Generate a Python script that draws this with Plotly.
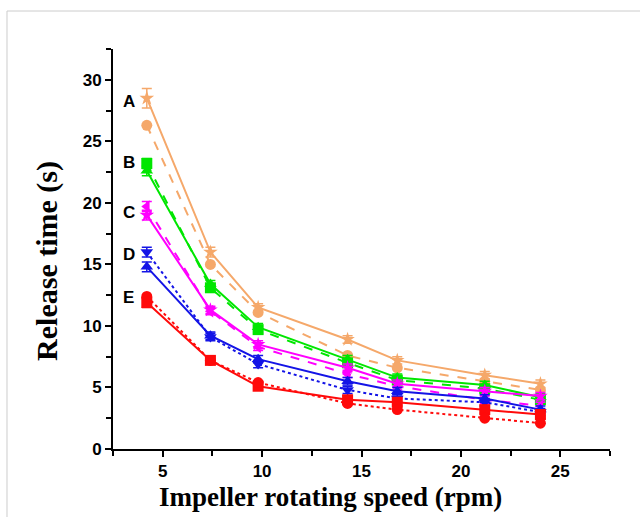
import plotly.graph_objects as go

speed = [4.2, 7.4, 9.8, 14.3, 16.8, 21.2, 24.0]

A_solid = [28.5, 16.0, 11.5, 8.9, 7.2, 6.0, 5.3]
A_dash = [26.3, 15.0, 11.1, 7.6, 6.6, 5.5, 4.8]
B_solid = [22.6, 13.4, 9.9, 7.3, 5.8, 5.2, 4.2]
B_dash = [23.2, 13.1, 9.7, 7.0, 5.6, 4.9, 4.0]
C_solid = [19.0, 11.3, 8.5, 6.6, 5.3, 4.7, 4.3]
C_dash = [19.7, 11.2, 8.3, 6.1, 5.1, 4.0, 3.5]
D_solid = [14.8, 9.2, 7.3, 5.5, 4.7, 4.1, 3.2]
D_dot = [16.0, 9.1, 6.9, 4.8, 4.1, 3.8, 3.0]
E_solid = [11.9, 7.2, 5.1, 4.0, 3.8, 3.2, 2.8]
E_dot = [12.4, 7.2, 5.4, 3.7, 3.2, 2.5, 2.1]

A_err = [0.8, 0.4, 0.3, 0.3, 0.3, 0.3, 0.3]
small_err = [0.4, 0.3, 0.3, 0.3, 0.3, 0.3, 0.3]

group_labels = ["A", "B", "C", "D", "E"]
label_y = [28.2, 23.3, 19.2, 15.8, 12.3]

x_title = "Impeller rotating speed (rpm)"
y_title = "Release time (s)"

ORANGE = "#F5A86A"
GREEN = "#00E600"
MAGENTA = "#FF00FF"
BLUE = "#1414E6"
RED = "#FF0A0A"

series = [
    (A_solid, ORANGE, "solid", "star", A_err),
    (A_dash, ORANGE, "dash", "circle", None),
    (B_solid, GREEN, "solid", "triangle-up", small_err),
    (B_dash, GREEN, "dash", "square", small_err),
    (C_solid, MAGENTA, "solid", "star", small_err),
    (C_dash, MAGENTA, "dash", "triangle-left", small_err),
    (D_solid, BLUE, "solid", "triangle-up", small_err),
    (D_dot, BLUE, "dot", "triangle-down", small_err),
    (E_solid, RED, "solid", "square", small_err),
    (E_dot, RED, "dot", "circle", None),
]

fig = go.Figure()
for vals, col, dash, sym, err in series:
    fig.add_trace(go.Scatter(
        x=speed, y=vals, mode="lines+markers",
        line=dict(color=col, width=2, dash=dash),
        marker=dict(color=col, symbol=sym, size=11),
        error_y=(dict(type="data", array=err, color=col, thickness=1.5, width=5)
                 if err else None),
        showlegend=False,
    ))

for lab, yv in zip(group_labels, label_y):
    fig.add_annotation(x=3.3, y=yv, text=lab, showarrow=False,
                       font=dict(family="Arial, Liberation Sans", size=17, color="black",
                                 weight="bold"))

fig.add_shape(type="rect", xref="paper", yref="paper",
              x0=-0.2133, x1=1.2, y0=-0.3, y1=1.095,
              line=dict(color="#cccccc", width=1))

axis_font = dict(family="Arial, Liberation Sans", size=17, color="black", weight="bold")

fig.add_annotation(xref="paper", yref="paper", x=0.437, y=-0.12, text=x_title,
                   showarrow=False, xanchor="center", yanchor="middle",
                   font=dict(family="Times New Roman, Liberation Serif", size=27,
                             color="black", weight="bold"))
fig.add_annotation(xref="paper", yref="paper", x=-0.133, y=0.47, text=y_title,
                   showarrow=False, xanchor="center", yanchor="middle", textangle=-90,
                   font=dict(family="Times New Roman, Liberation Serif", size=30,
                             color="black", weight="bold"))

fig.update_xaxes(range=[2.5, 27.5], tickvals=[5, 10, 15, 20, 25],
                 showline=True, linecolor="black", linewidth=2,
                 ticks="outside", ticklen=6, tickwidth=2, tickcolor="black",
                 minor=dict(ticks="outside", ticklen=5, tickwidth=2, tickcolor="black",
                            tickvals=[2.5, 7.5, 12.5, 17.5, 22.5, 27.5]),
                 showgrid=False, zeroline=False, tickfont=axis_font, automargin=False)
fig.update_yaxes(range=[0, 32.5], tickvals=[0, 5, 10, 15, 20, 25, 30],
                 showline=True, linecolor="black", linewidth=2,
                 ticks="outside", ticklen=6, tickwidth=2, tickcolor="black",
                 minor=dict(ticks="outside", ticklen=5, tickwidth=2, tickcolor="black",
                            tickvals=[2.5, 7.5, 12.5, 17.5, 22.5, 27.5, 32.5]),
                 showgrid=False, zeroline=False, tickfont=axis_font, automargin=False)

fig.update_layout(width=640, height=517, plot_bgcolor="white", paper_bgcolor="white",
                  margin=dict(l=113, r=30, t=49, b=68))

fig.write_html("out.html", config={"displayModeBar": False},
               post_script="document.body.style.margin='0';document.body.style.overflow='hidden';")
